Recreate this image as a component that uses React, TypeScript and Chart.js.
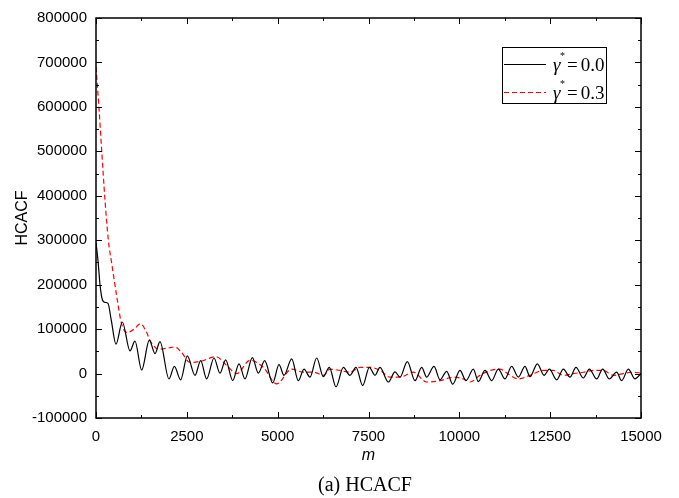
import React, { useEffect, useRef } from "react";
import { Chart, registerables } from "chart.js";

Chart.register(...registerables);

// ---- data ----
const gammas = [0.0, 0.3];

const blackM = [
  0, 60, 110, 180, 250, 330, 420, 550, 725, 935, 1073, 1257, 1468, 1624, 1761, 2009, 2156, 2330,
  2513, 2725, 2881, 3046, 3248, 3413, 3569, 3762, 3936, 4101, 4303, 4468, 4643, 4863, 5037, 5174,
  5386, 5569, 5725, 5890, 6074, 6257, 6422, 6606, 6807, 6991, 7156, 7340, 7523, 7679, 7817, 8046,
  8230, 8367, 8569, 8780, 8964, 9101, 9303, 9468, 9652, 9817, 10018, 10183, 10386, 10523, 10707,
  10890, 11074, 11257, 11440, 11624, 11807, 11945, 12147, 12331, 12478, 12680, 12863, 13046, 13211,
  13413, 13578, 13780, 13945, 14128, 14330, 14468, 14651, 14835, 15000,
];
const blackV = [
  295000, 250000, 200000, 165000, 160000, 158000, 120000, 66000, 116000, 51000, 73000, 8000, 75000,
  45000, 72000, -12000, 16000, -14000, 40000, -4000, 29000, -12000, 35000, 1000, 31000, -16000,
  22000, -12000, 36000, 1000, 29000, -21000, 20000, -4000, 33000, -16000, 10000, -8000, 35000,
  -7000, 14000, -30000, 14000, -4000, 14000, -27000, 14000, -4000, 14000, -19000, 4000, -8000,
  27000, -16000, 14000, -8000, 16000, -14000, 5000, -24000, 7000, -16000, 10000, -18000, 7000,
  -16000, 10000, -12000, 16000, -8000, 16000, -7000, 22000, -4000, 10000, -14000, 10000, -8000,
  14000, -10000, 10000, -12000, 10000, -12000, 3000, -16000, 10000, -12000, 0,
];

const redM = [
  0, 80, 156, 248, 340, 440, 578, 697, 853, 1050, 1220, 1380, 1495, 1725, 2018, 2174, 2350, 2587,
  2900, 3300, 3600, 3872, 4239, 4606, 4973, 5386, 5706, 6000, 6257, 6440, 6715, 6990, 7266, 7540,
  7817, 8092, 8367, 8734, 9101, 9468, 9835, 10110, 10294, 10569, 10844, 11119, 11394, 11624, 11945,
  12312, 12587, 12863, 13138, 13413, 13688, 13963, 14238, 14514, 14789, 15000,
];
const redV = [
  690000, 600000, 503000, 390000, 300000, 244000, 170000, 114000, 92000, 100000, 112000, 95000,
  73000, 55000, 58000, 60000, 48000, 25000, 28000, 38000, 18000, 0, 30000, 14000, -23000, 10000,
  3000, 3000, -4000, 10000, 7000, 3000, 14000, 14000, 7000, -8000, -8000, 3000, -19000, -16000,
  -8000, -12000, -19000, -4000, 7000, 10000, -4000, -12000, -4000, 7000, 7000, -4000, 0, 3000,
  7000, 7000, -4000, 0, 3000, 1000,
];

const xTicks = [0, 2500, 5000, 7500, 10000, 12500, 15000];
const yTicks = [-100000, 0, 100000, 200000, 300000, 400000, 500000, 600000, 700000, 800000];

const xTitle = "m";
const yTitle = "HCACF";
const caption = "(a) HCACF";

const SANS = "Arial, 'Liberation Sans', sans-serif";
const SERIF = "'Times New Roman', 'Liberation Serif', serif";

const framePlugin = {
  id: "frameTicks",
  afterDraw(chart: any) {
    const { ctx, chartArea: a, scales } = chart;
    const xs = scales.x;
    const ys = scales.y;
    ctx.save();
    ctx.strokeStyle = "#000";
    ctx.lineWidth = 1.5;
    ctx.strokeRect(a.left, a.top, a.right - a.left, a.bottom - a.top);
    ctx.lineWidth = 1;
    const drawX = (v: number, len: number) => {
      const px = Math.round(xs.getPixelForValue(v)) + 0.5;
      ctx.beginPath();
      ctx.moveTo(px, a.bottom);
      ctx.lineTo(px, a.bottom - len);
      ctx.moveTo(px, a.top);
      ctx.lineTo(px, a.top + len);
      ctx.stroke();
    };
    const drawY = (v: number, len: number) => {
      const py = Math.round(ys.getPixelForValue(v)) + 0.5;
      ctx.beginPath();
      ctx.moveTo(a.left, py);
      ctx.lineTo(a.left + len, py);
      ctx.moveTo(a.right, py);
      ctx.lineTo(a.right - len, py);
      ctx.stroke();
    };
    for (let i = 0; i < xTicks.length; i++) {
      drawX(xTicks[i], 6);
      if (i < xTicks.length - 1) drawX((xTicks[i] + xTicks[i + 1]) / 2, 3);
    }
    for (let i = 0; i < yTicks.length; i++) {
      drawY(yTicks[i], 6);
      if (i < yTicks.length - 1) drawY((yTicks[i] + yTicks[i + 1]) / 2, 3);
    }
    // caption
    ctx.fillStyle = "#000";
    ctx.font = `20px ${SERIF}`;
    ctx.textAlign = "center";
    ctx.textBaseline = "alphabetic";
    ctx.fillText(caption, 365, 491);
    ctx.restore();
  },
};

const legendPlugin = {
  id: "customLegend",
  afterDraw(chart: any) {
    const { ctx } = chart;
    const bx = 502, by = 47, bw = 104, bh = 56;
    ctx.save();
    ctx.fillStyle = "#fff";
    ctx.fillRect(bx, by, bw, bh);
    ctx.strokeStyle = "#000";
    ctx.lineWidth = 1;
    ctx.strokeRect(bx + 0.5, by + 0.5, bw, bh);
    chart.data.datasets.forEach((ds: any, i: number) => {
      const y = 64 + i * 28;
      ctx.strokeStyle = ds.borderColor;
      ctx.lineWidth = 1.2;
      ctx.setLineDash(ds.borderDash || []);
      ctx.beginPath();
      ctx.moveTo(504, y + 0.5);
      ctx.lineTo(546, y + 0.5);
      ctx.stroke();
      ctx.setLineDash([]);
      const label: string = ds.label;
      const sym = label.charAt(0);
      const rest = label.slice(label.indexOf("=")).replace(/\s+/g, "");
      ctx.fillStyle = "#000";
      ctx.textBaseline = "alphabetic";
      ctx.textAlign = "left";
      ctx.font = `italic 19px ${SERIF}`;
      ctx.fillText(sym, 553, y + 7);
      ctx.font = `10px ${SERIF}`;
      ctx.fillText("*", 560, y - 5);
      ctx.font = `19px ${SERIF}`;
      const eqW = ctx.measureText("=").width;
      ctx.fillText("=", 567, y + 7);
      ctx.fillText(rest.slice(1), 568 + eqW + 2, y + 7);
    });
    ctx.restore();
  },
};

export default function App() {
  const ref = useRef<HTMLCanvasElement>(null);
  useEffect(() => {
    if (!ref.current) return;
    const chart = new Chart(ref.current, {
      type: "line",
      data: {
        datasets: [
          {
            label: `γ* = ${gammas[0].toFixed(1)}`,
            data: blackM.map((m, i) => ({ x: m, y: blackV[i] })),
            borderColor: "#000000",
            borderWidth: 1.2,
            pointRadius: 0,
            cubicInterpolationMode: "monotone",
            fill: false,
          },
          {
            label: `γ* = ${gammas[1].toFixed(1)}`,
            data: redM.map((m, i) => ({ x: m, y: redV[i] })),
            borderColor: "#ff0000",
            borderWidth: 1.2,
            borderDash: [5, 3],
            pointRadius: 0,
            cubicInterpolationMode: "monotone",
            fill: false,
          },
        ],
      },
      options: {
        animation: false,
        responsive: false,
        devicePixelRatio: 1,
        layout: { padding: { left: 0, top: 13, right: 38, bottom: 33 } },
        plugins: { legend: { display: false }, tooltip: { enabled: false } },
        scales: {
          x: {
            type: "linear",
            min: 0,
            max: 15000,
            afterBuildTicks: (s: any) => {
              s.ticks = xTicks.map((v) => ({ value: v }));
            },
            afterFit: (s: any) => {
              s.height = 47;
            },
            ticks: {
              autoSkip: false,
              maxRotation: 0,
              padding: 10,
              color: "#000",
              font: { family: SANS, size: 15 },
              callback: (v: any) => String(v),
            },
            grid: { display: false, drawTicks: false },
            border: { display: false },
            title: {
              display: true,
              text: xTitle,
              color: "#000",
              font: { family: SANS, size: 16, style: "italic" },
              padding: 0,
            },
          },
          y: {
            type: "linear",
            min: -100000,
            max: 800000,
            afterBuildTicks: (s: any) => {
              s.ticks = yTicks.map((v) => ({ value: v }));
            },
            afterFit: (s: any) => {
              s.width = 96;
            },
            ticks: {
              autoSkip: false,
              padding: 9,
              color: "#000",
              font: { family: SANS, size: 15 },
              callback: (v: any) => String(v),
            },
            grid: { display: false, drawTicks: false },
            border: { display: false },
            title: {
              display: true,
              text: yTitle,
              color: "#000",
              font: { family: SANS, size: 16 },
              padding: { top: 13, bottom: 0 },
            },
          },
        },
      },
      plugins: [framePlugin, legendPlugin],
    });
    return () => chart.destroy();
  }, []);
  return (
    <div style={{ position: "absolute", left: 0, top: 0, width: 679, height: 498, background: "#fff" }}>
      <canvas ref={ref} width={679} height={498} />
    </div>
  );
}
